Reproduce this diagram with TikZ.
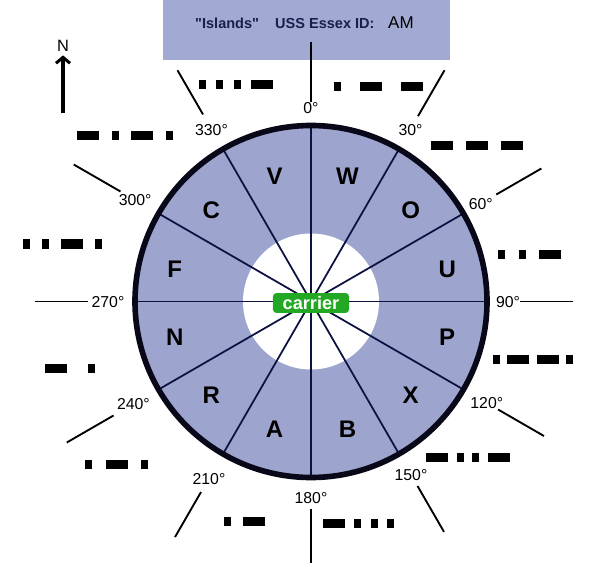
\documentclass[tikz,border=0pt]{standalone}
\usepackage{fontspec}
\setmainfont{Liberation Sans}
\usetikzlibrary{arrows.meta}

\definecolor{sector}{HTML}{9DA5CF}
\definecolor{titlebox}{HTML}{A2AAD3}
\definecolor{spoke}{HTML}{0C1142}
\definecolor{ring}{HTML}{080818}
\definecolor{navytext}{HTML}{1B1F4E}
\definecolor{carriergreen}{HTML}{22A822}

\tikzset{
  titletext/.style={font=\fontsize{12.4}{14}\selectfont\bfseries, text=navytext, inner sep=0pt},
  deglabel/.style={font=\fontsize{13.5}{15}\selectfont, inner sep=0pt},
  letter/.style={font=\fontsize{20.5}{22}\selectfont\bfseries, inner sep=0pt},
  tickline/.style={line width=1.6pt},
  spokeline/.style={draw=spoke, line width=1.5pt},
}

% one morse sign: * = dot, - = dash
\newcommand\mgap{10}
\def\morsedraw#1{\ifx#1\relax\else
  \ifx#1-\def\mw{22}\else\def\mw{7}\fi
  \fill (\mpos,\mrow-4.5) rectangle ++(\mw,9);
  \pgfmathsetmacro\mpos{\mpos+\mw+\mgap}%
  \expandafter\morsedraw\fi}

\begin{document}
\begin{tikzpicture}[x=0.03cm, y=-0.03cm]
\useasboundingbox (0,0) rectangle (597,570);
\coordinate (c) at (311,301.5);

% title
\fill[titlebox] (163,0) rectangle (450,60);
\node[titletext, anchor=base west] (islands) at (195,29) {\textquotedbl Islands\textquotedbl};
\node[titletext, anchor=base west] (essex) at (275,29) {USS Essex ID:};
\node[font=\fontsize{14.5}{16}\selectfont, inner sep=0pt, anchor=base west] (shipid) at (388,29) {AM};

% north arrow
\node[font=\fontsize{14}{16}\selectfont, inner sep=0pt] (north) at (63,46) {N};
\coordinate (nbase) at (63,113);
\draw[line width=2.6pt, -{Straight Barb[length=5pt, width=12pt]}, shorten >=3pt] (nbase) -- (north.south);

% wheel
\fill[sector] (c) circle (177);
\fill[white] (c) circle (68);
\foreach \t in {0,30,...,330}
  \draw[spokeline] (c) -- ++({176*sin(\t)},{-176*cos(\t)});
\draw[ring, line width=4.8pt] (c) circle (176);

\foreach \t/\l in {15/W,45/O,75/U,105/P,135/X,165/B,195/A,225/R,255/N,285/F,315/C,345/V}
  \node[letter] (s\l) at ({311+141*sin(\t)},{303-131*cos(\t)}) {\l};

\node[fill=carriergreen, text=white, rounded corners=3pt, inner sep=1pt,
      minimum width=65pt, minimum height=17pt,
      font=\fontsize{15.5}{17}\selectfont\bfseries] (carrier) at (311,303) {carrier};

% bearings
\foreach \t/\r/\a/\b in {0/194/199/259,30/199/214/267,60/196/214/266,90/197/209/262,
    120/203/216/269,150/200/213/266,180/196/207/261,210/204/220/272,
    240/205/228/282,270/203/223/276,300/203/220/274,330/199/216/267}
{
  \node[deglabel] (d\t) at ({311+\r*sin(\t)},{302-\r*cos(\t)}) {\t°};
  \draw[tickline] ({311+\a*sin(\t)},{301.5-\a*cos(\t)}) -- ({311+\b*sin(\t)},{301.5-\b*cos(\t)});
}

% morse
\foreach \mx/\my/\g/\code in {199/85/10.3/***-, 334/87/19/*--, 431/146/13/---,
    498/254/13.5/**-, 493/359/7.3/*--*, 426/457/8.7/-**-, 323/523/9.3/-***,
    224/521/12/*-, 85/464/13.5/*-*, 45/368/21/-*, 23/244/12/**-*, 77/136/12.7/-*-*}
{
  \def\mpos{\mx}\def\mrow{\my}\def\mgap{\g}%
  \expandafter\morsedraw\code\relax
}
\end{tikzpicture}
\end{document}
